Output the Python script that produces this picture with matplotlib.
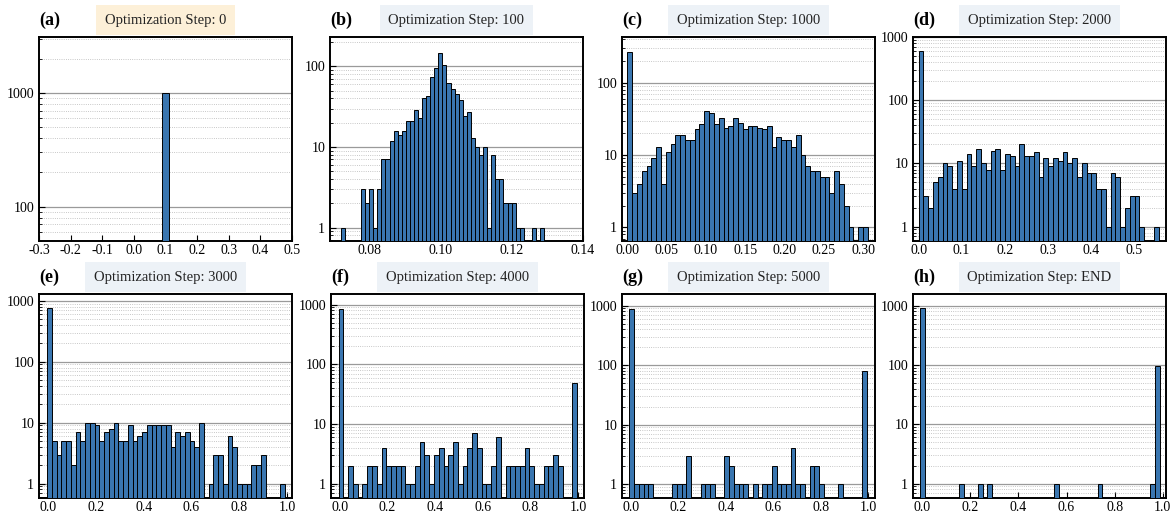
import numpy as np
import matplotlib
matplotlib.use("Agg")
import matplotlib.pyplot as plt
from matplotlib.ticker import LogLocator, FuncFormatter, NullFormatter, MultipleLocator

plt.rcParams["font.family"] = ["Liberation Serif", "DejaVu Serif"]
plt.rcParams["axes.unicode_minus"] = False

# histogram counts per optimisation step (50 bins each, except step 0)
steps = ["0", "100", "1000", "2000", "3000", "4000", "5000", "END"]
letters = ["a", "b", "c", "d", "e", "f", "g", "h"]

counts_a = [1000]
counts_b = [1, 0, 0, 0, 0, 3, 2, 3, 1, 3, 7, 7, 12, 16, 14, 16, 21, 21, 29, 23,
            41, 43, 73, 95, 148, 103, 63, 53, 45, 38, 24, 27, 13, 10, 8, 10, 1, 8, 4, 4,
            2, 2, 2, 1, 1, 0, 0, 1, 0, 1]
counts_c = [262, 3, 4, 6, 7, 9, 13, 4, 11, 14, 19, 19, 16, 16, 23, 27, 41, 38, 27, 33,
            24, 25, 32, 28, 23, 25, 25, 24, 23, 25, 13, 18, 16, 16, 13, 19, 10, 7, 6, 6,
            5, 5, 3, 6, 4, 2, 1, 0, 1, 1]
counts_d = [595, 3, 2, 5, 6, 10, 9, 4, 11, 4, 14, 9, 17, 10, 8, 16, 17, 8, 14, 13,
            9, 20, 13, 13, 15, 6, 12, 9, 12, 11, 15, 10, 12, 6, 10, 7, 7, 4, 4, 1,
            7, 6, 1, 2, 3, 3, 1, 0, 0, 1]
counts_e = [755, 5, 3, 5, 5, 2, 7, 5, 10, 10, 9, 5, 7, 8, 10, 5, 5, 9, 5, 6,
            7, 9, 9, 9, 9, 9, 4, 7, 6, 7, 5, 4, 10, 0, 1, 3, 3, 1, 6, 4,
            1, 1, 1, 2, 2, 3, 0, 0, 0, 1]
counts_f = [850, 0, 2, 1, 0, 1, 2, 2, 1, 4, 2, 2, 2, 2, 1, 1, 2, 5, 3, 1,
            3, 4, 2, 3, 5, 1, 2, 4, 7, 4, 1, 1, 2, 6, 0, 2, 2, 2, 2, 4,
            2, 1, 1, 2, 2, 3, 2, 0, 0, 48]
counts_g = [878, 1, 1, 1, 1, 0, 0, 0, 0, 1, 1, 1, 3, 0, 0, 1, 1, 1, 0, 0,
            3, 2, 1, 1, 1, 0, 1, 0, 1, 1, 2, 1, 1, 1, 4, 1, 1, 0, 2, 2,
            1, 0, 0, 0, 1, 0, 0, 0, 0, 80]
counts_h = [897, 0, 0, 0, 0, 0, 0, 0, 1, 0, 0, 0, 1, 0, 1, 0, 0, 0, 0, 0,
            0, 0, 0, 0, 0, 0, 0, 0, 1, 0, 0, 0, 0, 0, 0, 0, 0, 1, 0, 0,
            0, 0, 0, 0, 0, 0, 0, 0, 1, 97]
all_counts = [counts_a, counts_b, counts_c, counts_d, counts_e, counts_f, counts_g, counts_h]

# histogram range (first edge, last edge)
bin_ranges = [(0.09, 0.11), (0.0720, 0.1291), (0.0, 0.306), (0.0, 0.558),
              (-0.004, 0.990), (-0.004, 0.996), (-0.007, 0.993), (-0.008, 0.988)]

x_limits = [(-0.3, 0.5), (0.069, 0.14), (-0.0067, 0.315), (-0.013, 0.575),
            (-0.038, 1.021), (-0.036, 1.025), (-0.038, 1.028), (-0.039, 1.014)]
y_limits = [(50, 3100), (0.68, 232), (0.65, 427), (0.59, 1010),
            (0.58, 1290), (0.573, 1513), (0.58, 1573), (0.572, 1575)]
x_steps = [0.1, 0.02, 0.05, 0.1, 0.2, 0.2, 0.2, 0.2]
x_formats = ["%.1f", "%.2f", "%.2f", "%.1f", "%.1f", "%.1f", "%.1f", "%.1f"]

W, H = 1172, 514
fig = plt.figure(figsize=(W / 100, H / 100), dpi=100)

lefts = [39, 330, 622, 913, 39, 331, 622, 913]
tops = [37, 37, 37, 37, 294, 294, 294, 294]
ax_w, ax_h = 253, 204

bar_color = "#3a76b0"

for i in range(8):
    ax = fig.add_axes([lefts[i] / W, 1 - (tops[i] + ax_h) / H, ax_w / W, ax_h / H])
    counts = np.array(all_counts[i], dtype=float)
    lo, hi = bin_ranges[i]
    edges = np.linspace(lo, hi, len(counts) + 1)
    keep = counts > 0
    ax.bar(edges[:-1][keep], counts[keep], width=np.diff(edges)[keep], align="edge",
           color=bar_color, edgecolor="black", linewidth=0.7, zorder=3)

    ax.set_yscale("log")
    ax.set_xlim(*x_limits[i])
    ax.set_ylim(*y_limits[i])
    ax.yaxis.set_major_locator(LogLocator(base=10))
    ax.yaxis.set_minor_locator(LogLocator(base=10, subs=np.arange(2, 10)))
    ax.yaxis.set_major_formatter(FuncFormatter(lambda v, _: f"{v:g}"))
    ax.yaxis.set_minor_formatter(NullFormatter())
    ax.xaxis.set_major_locator(MultipleLocator(x_steps[i]))
    fmt = x_formats[i]
    ax.xaxis.set_major_formatter(FuncFormatter(lambda v, _, f=fmt: f % v))

    ax.grid(True, which="major", axis="y", color="#9a9a9a", linewidth=0.9, zorder=0)
    ax.grid(True, which="minor", axis="y", color="#b5b5b5", linestyle=":", linewidth=0.6, zorder=0)
    ax.set_axisbelow(True)
    ax.tick_params(which="both", direction="in", labelsize=10, top=False, right=False)
    ax.tick_params(which="major", length=4, width=0.8)
    ax.tick_params(which="minor", length=2.5, width=0.6)
    ax.tick_params(axis="x", pad=2)
    for sp in ax.spines.values():
        sp.set_linewidth(1.4)
        sp.set_color("black")

    box_color = "#fdf0d8" if i == 0 else "#edf2f7"
    ax.annotate(f"Optimization Step: {steps[i]}", xy=(0.5, 1), xycoords="axes fraction",
                xytext=(0, 12.2), textcoords="offset points", ha="center", va="center",
                fontsize=10.5, color="#222222",
                bbox=dict(boxstyle="square,pad=0.6", facecolor=box_color, edgecolor="none"))
    ax.annotate(f"({letters[i]})", xy=(0, 1), xycoords="axes fraction",
                xytext=(0, 12.2), textcoords="offset points", ha="left", va="center",
                fontsize=13, fontweight="bold")

fig.savefig("out.png", dpi=100)
